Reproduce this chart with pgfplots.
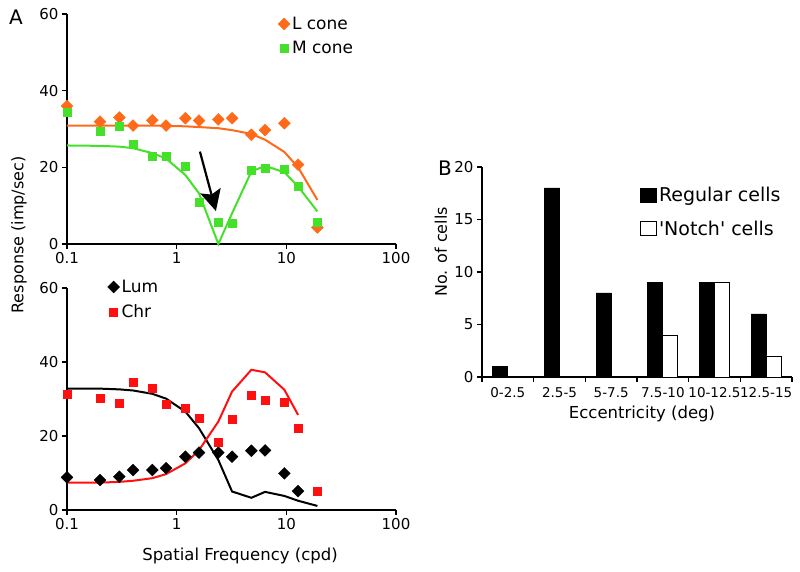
\documentclass[border=0pt]{standalone}
\usepackage{pgfplots}
\pgfplotsset{compat=1.18}
\usepackage{fontspec}
\setmainfont{DejaVu Sans}
\usetikzlibrary{arrows.meta}
\definecolor{lcone}{HTML}{FF6A1A}
\definecolor{mcone}{HTML}{44E02A}
\definecolor{chr}{HTML}{FF1010}
\pgfplotsset{
  every axis/.append style={scale only axis, axis lines=left, axis line style={line width=1.2pt,-},
    tick style={line width=1.2pt,black}, tick align=outside, major tick length=5pt,
    ticklabel style={font=\fontsize{15}{17}\selectfont},
    /pgf/number format/assume math mode=true, clip=false,
    legend style={draw=none, fill=none, font=\fontsize{17}{20}\selectfont, row sep=6pt},
    legend cell align=left},
}
\begin{document}
\begin{tikzpicture}
\path[use as bounding box] (0pt,0pt) rectangle (800pt,572pt);
% top panel
\begin{axis}[xmode=log, xmin=0.1, xmax=100, ymin=0, ymax=60,
    xtick={0.1,1,10,100}, xticklabels={0.1,1,10,100}, ytick={0,20,40,60},
    xminorticks=false, yminorticks=false, width=329pt,
  height=230pt, at={(67pt,328pt)}, anchor=south west,
  legend style={at={(0.632,1.005)}, anchor=north west}]
\addplot[line width=2pt, no marks, forget plot, lcone] coordinates {(0.1,30.9)(0.2,30.9)(0.3,30.9)(0.4,30.9)(0.6,30.9)(0.8,30.8)(1.2,30.7)(1.6,30.5)(2.4,30.2)(3.2,29.7)(4.8,28.7)(6.4,27.2)(9.6,24.0)(12.8,20.0)(19.2,11.5)};
\addplot[line width=2pt, no marks, forget plot, mcone] coordinates {(0.1,25.7)(0.2,25.6)(0.3,25.4)(0.4,25.0)(0.6,23.7)(0.8,22.3)(1.2,18.0)(1.6,13.2)(2.4,0)(3.2,8.0)(4.8,18.9)(6.4,20.4)(9.6,18.7)(12.8,15.0)(19.2,8.5)};
\addplot[only marks, mark=square*, mark size=4.2pt, mark options={rotate=45}, lcone] coordinates {(0.1,36.0)(0.2,31.9)(0.3,33.0)(0.4,30.9)(0.6,32.3)(0.8,30.9)(1.2,32.8)(1.6,32.2)(2.4,32.5)(3.2,32.8)(4.8,28.5)(6.4,29.7)(9.6,31.5)(12.8,20.7)(19.2,4.3)};
\addlegendentry{L cone}
\addplot[only marks, mark=square*, mark size=4pt, mcone] coordinates {(0.1,34.5)(0.2,29.3)(0.3,30.6)(0.4,26.1)(0.6,23.0)(0.8,22.8)(1.2,20.2)(1.6,10.8)(2.4,5.6)(3.2,5.4)(4.8,19.3)(6.4,19.9)(9.6,19.6)(12.8,15.0)(19.2,5.8)};
\addlegendentry{M cone}
\draw[line width=2.2pt, -{Stealth[length=21pt,width=21pt,inset=4pt]}] (axis cs:1.63,24.1) -- (axis cs:2.28,8.6);
\end{axis}
% bottom panel
\begin{axis}[xmode=log, xmin=0.1, xmax=100, ymin=0, ymax=60,
    xtick={0.1,1,10,100}, xticklabels={0.1,1,10,100}, ytick={0,20,40,60},
    xminorticks=false, yminorticks=false, width=329pt,
  height=222pt, at={(67pt,62pt)}, anchor=south west,
  legend style={at={(0.114,1.055)}, anchor=north west, row sep=7pt}]
\addplot[line width=2pt, no marks, forget plot, black] coordinates {(0.1,32.8)(0.2,32.8)(0.3,32.6)(0.4,32.3)(0.6,31.4)(0.8,30.1)(1.2,26.6)(1.6,22.1)(2.4,13.5)(3.2,5.0)(4.8,3.3)(6.4,4.9)(9.6,3.8)(12.8,2.5)(19.2,1.1)};
\addplot[line width=2pt, no marks, forget plot, chr] coordinates {(0.1,7.4)(0.2,7.4)(0.3,7.6)(0.4,7.9)(0.6,8.6)(0.8,9.7)(1.2,12.6)(1.6,16.2)(2.4,23.9)(3.2,32.0)(4.8,37.9)(6.4,37.2)(9.6,32.5)(12.8,25.7)};
\addplot[only marks, mark=square*, mark size=4.2pt, mark options={rotate=45}, black] coordinates {(0.1,8.8)(0.2,8.1)(0.3,9.0)(0.4,10.8)(0.6,10.8)(0.8,11.3)(1.2,14.4)(1.6,15.5)(2.4,15.5)(3.2,14.4)(4.8,16.0)(6.4,16.1)(9.6,9.9)(12.8,5.1)};
\addlegendentry{Lum}
\addplot[only marks, mark=square*, mark size=4pt, chr] coordinates {(0.1,31.4)(0.2,30.1)(0.3,28.9)(0.4,34.5)(0.6,32.8)(0.8,28.7)(1.2,27.5)(1.6,24.8)(2.4,18.3)(3.2,24.6)(4.8,31.0)(6.4,29.6)(9.6,29.1)(12.8,22.1)(19.2,5.2)};
\addlegendentry{Chr}
\end{axis}
% right panel
\begin{axis}[width=310pt, height=210pt, at={(482pt,195pt)}, anchor=south west,
  xmin=-0.5, xmax=5.5, ymin=0, ymax=20, ytick={0,5,10,15,20},
  xtick={-0.5,0.5,1.5,2.5,3.5,4.5,5.5}, x tick label as interval=true,
  xticklabels={0-2.5,2.5-5,5-7.5,7.5-10,10-12.5,12.5-15},
  xticklabel style={font=\fontsize{13.5}{15}\selectfont, yshift=-2pt},
  ybar=0pt, bar width=15pt,
  legend style={at={(0.50,0.925)}, anchor=north west, font=\fontsize{19}{22}\selectfont, row sep=14pt},
  legend image code/.code={\draw[#1] (0pt,-7pt) rectangle (16pt,7pt);}]
\addplot[fill=black, draw=black, line width=0.8pt] coordinates {(0,1)(1,18)(2,8)(3,9)(4,9)(5,6)};
\addlegendentry{Regular cells}
\addplot[fill=white, draw=black, line width=0.8pt] coordinates {(3,4)(4,9)(5,2)};
\addlegendentry{\textquotesingle Notch\textquotesingle{} cells}
\end{axis}
% labels
\node[font=\fontsize{20}{22}\selectfont] at (16pt,555pt) {A};
\node[font=\fontsize{20}{22}\selectfont] at (445pt,404pt) {B};
\node[rotate=90, font=\fontsize{16}{18}\selectfont] at (19pt,337pt) {Response (imp/sec)};
\node[font=\fontsize{16.5}{18}\selectfont] at (240pt,16pt) {Spatial Frequency (cpd)};
\node[rotate=90, font=\fontsize{16}{18}\selectfont] at (441pt,320pt) {No. of cells};
\node[font=\fontsize{16.5}{18}\selectfont] at (642pt,158pt) {Eccentricity (deg)};
\end{tikzpicture}
\end{document}
